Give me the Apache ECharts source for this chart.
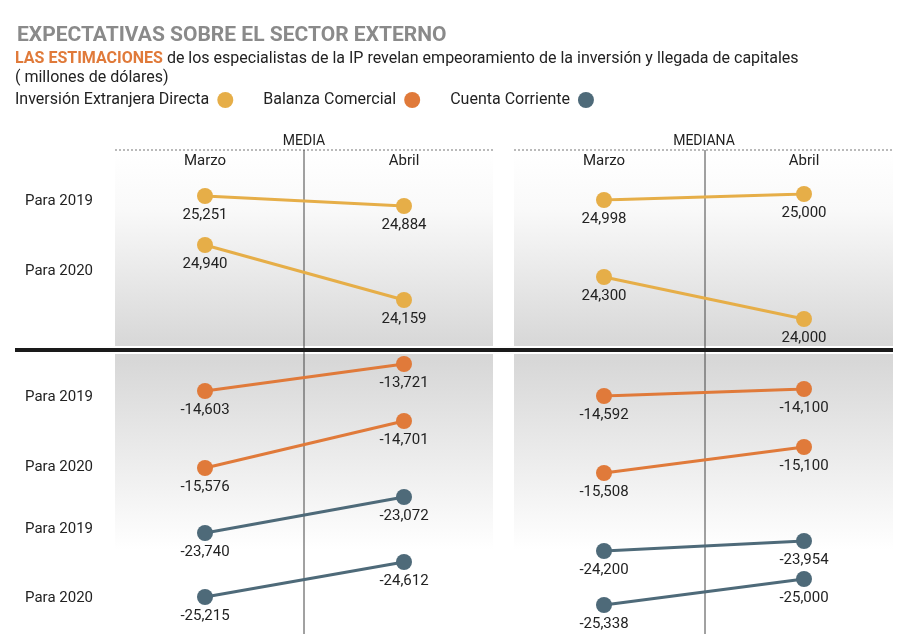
<!DOCTYPE html>
<html>
<head>
<meta charset="utf-8">
<script src="https://cdn.jsdelivr.net/npm/echarts@6/dist/echarts.min.js"></script>
<style>html,body{margin:0;padding:0;background:#fff}#c{width:900px;height:634px}</style>
</head>
<body>
<div id="c"></div>
<script>
// ---- data ----
const months = ['Marzo', 'Abril'];
const panels = ['MEDIA', 'MEDIANA'];
const indicators = ['Inversión Extranjera Directa', 'Balanza Comercial', 'Cuenta Corriente'];
const rowLabels = ['Para 2019', 'Para 2020', 'Para 2019', 'Para 2020', 'Para 2019', 'Para 2020'];
// MEDIA [Marzo, Abril]
const mediaIED2019 = [25251, 24884];
const mediaIED2020 = [24940, 24159];
const mediaBC2019 = [-14603, -13721];
const mediaBC2020 = [-15576, -14701];
const mediaCC2019 = [-23740, -23072];
const mediaCC2020 = [-25215, -24612];
// MEDIANA [Marzo, Abril]
const medianaIED2019 = [24998, 25000];
const medianaIED2020 = [24300, 24000];
const medianaBC2019 = [-14592, -14100];
const medianaBC2020 = [-15508, -15100];
const medianaCC2019 = [-24200, -23954];
const medianaCC2020 = [-25338, -25000];

// ---- layout / style (not data) ----
const colors = ['#E6AE48', '#E07A3A', '#4E6A79'];
const fontFamily = 'Roboto, "Noto Sans", sans-serif';
const panelX = [[205, 496], [604, 96]];           // grid left / right
// vertical bands (top px, bottom px) for each slope line, per panel
const bands = [
  [[196, 206], [245, 300], [364, 391], [421, 468], [497, 533], [562, 597]],
  [[194, 200], [277, 319], [389, 396], [447, 473], [541, 551], [579, 605]]
];
const rowLabelY = [201, 271, 397, 467, 529, 598];

const panelSeries = [
  [mediaIED2019, mediaIED2020, mediaBC2019, mediaBC2020, mediaCC2019, mediaCC2020],
  [medianaIED2019, medianaIED2020, medianaBC2019, medianaBC2020, medianaCC2019, medianaCC2020]
];

const grids = [], xAxes = [], yAxes = [], series = [];
panelSeries.forEach((lines, p) => {
  lines.forEach((vals, i) => {
    const idx = grids.length;
    const b = bands[p][i];
    grids.push({left: panelX[p][0], right: panelX[p][1], top: b[0], height: b[1] - b[0]});
    xAxes.push({type: 'category', data: months, gridIndex: idx, boundaryGap: false, show: false});
    yAxes.push({type: 'value', gridIndex: idx, min: Math.min(...vals), max: Math.max(...vals), show: false});
    const ind = Math.floor(i / 2);
    series.push({
      type: 'line', name: indicators[ind], xAxisIndex: idx, yAxisIndex: idx,
      data: vals, symbol: 'circle', symbolSize: 16, showSymbol: true,
      itemStyle: {color: colors[ind]},
      lineStyle: {color: colors[ind], width: 3},
      label: {show: true, position: 'bottom', distance: 4, color: '#222',
        fontSize: 15, fontFamily: fontFamily,
        formatter: (d) => d.value.toLocaleString('en-US')},
      emphasis: {disabled: true}, animation: false, z: 5
    });
  });
});

const graphics = [];
// panel backgrounds
[[115, 493], [514, 893]].forEach(([x0, x1]) => {
  graphics.push({type: 'rect', z: 0, shape: {x: x0, y: 152, width: x1 - x0, height: 194},
    style: {fill: new echarts.graphic.LinearGradient(0, 0, 0, 1, [
      {offset: 0, color: '#ffffff'}, {offset: 0.3, color: '#f9f9f9'}, {offset: 1, color: '#d7d7d7'}])}});
  graphics.push({type: 'rect', z: 0, shape: {x: x0, y: 354, width: x1 - x0, height: 280},
    style: {fill: new echarts.graphic.LinearGradient(0, 0, 0, 1, [
      {offset: 0, color: '#d6d6d6'}, {offset: 0.7, color: '#ffffff'}, {offset: 1, color: '#ffffff'}])}});
  graphics.push({type: 'line', z: 1, shape: {x1: x0, y1: 150, x2: x1, y2: 150},
    style: {stroke: '#777', lineWidth: 1, lineDash: [2, 2]}});
});
// thick separator
graphics.push({type: 'line', z: 2, shape: {x1: 15, y1: 350, x2: 893, y2: 350},
  style: {stroke: '#1a1a1a', lineWidth: 4}});
// vertical dividers
[304, 705].forEach(x => graphics.push({type: 'line', z: 1,
  shape: {x1: x, y1: 150, x2: x, y2: 634}, style: {stroke: '#444', lineWidth: 1}}));
// panel titles
[304, 704].forEach((x, p) => graphics.push({type: 'text', z: 3, x: x, y: 141,
  style: {text: panels[p], fill: '#222', font: '14px ' + fontFamily, textAlign: 'center', textVerticalAlign: 'middle'}}));
// month headers
[[205, 404], [604, 804]].forEach(xs => xs.forEach((x, m) => graphics.push({type: 'text', z: 3, x: x, y: 161,
  style: {text: months[m], fill: '#222', font: '15px ' + fontFamily, textAlign: 'center', textVerticalAlign: 'middle'}})));
// row labels
rowLabels.forEach((t, i) => graphics.push({type: 'text', z: 3, x: 93, y: rowLabelY[i],
  style: {text: t, fill: '#222', font: '15px ' + fontFamily, textAlign: 'right', textVerticalAlign: 'middle'}}));
// subtitle lines
graphics.push({type: 'text', z: 3, x: 15, y: 59, style: {
  rich: {o: {fill: '#E07A3A', fontWeight: 'bold', fontSize: 16, fontFamily: fontFamily},
         n: {fill: '#222', fontSize: 16, fontFamily: fontFamily}},
  text: '{o|LAS ESTIMACIONES}{n| de los especialistas de la IP revelan empeoramiento de la inversión y llegada de capitales}',
  textVerticalAlign: 'middle'}});
graphics.push({type: 'text', z: 3, x: 15, y: 78, style: {text: '( millones de dólares)', fill: '#222',
  font: '16px ' + fontFamily, textVerticalAlign: 'middle'}});

const chart = echarts.init(document.getElementById('c'));
chart.setOption({
  animation: false,
  title: {text: 'EXPECTATIVAS SOBRE EL SECTOR EXTERNO', left: 12, top: 20,
    textStyle: {color: '#8a8a8a', fontSize: 21, fontWeight: 'bold', fontFamily: fontFamily}},
  legend: {data: indicators, left: 15, top: 92, padding: 0, align: 'right', icon: 'circle',
    itemWidth: 16, itemHeight: 16, itemGap: 30, selectedMode: false,
    textStyle: {color: '#222', fontSize: 16, fontFamily: fontFamily, padding: [0, 3, 0, 0]}},
  grid: grids, xAxis: xAxes, yAxis: yAxes, series: series, graphic: graphics
});
</script>
</body>
</html>
